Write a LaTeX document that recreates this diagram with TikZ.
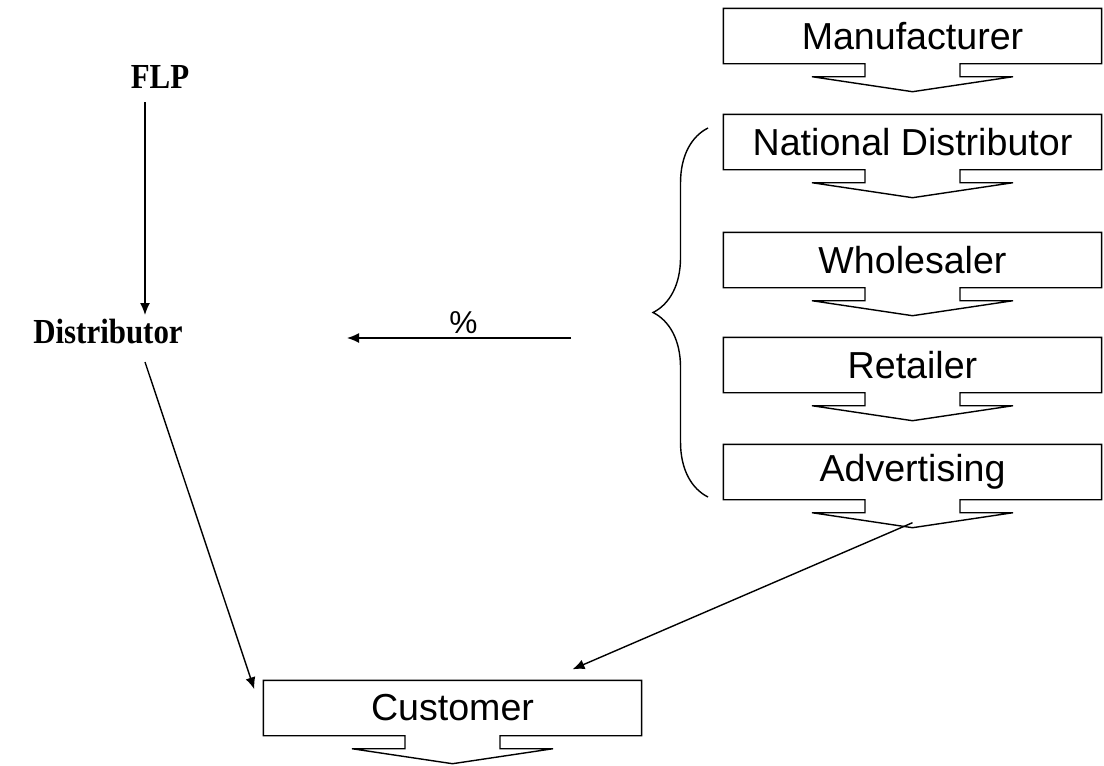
\documentclass[tikz,border=0pt]{standalone}
\usepackage{fontspec}
\usetikzlibrary{calc,arrows.meta,decorations.pathreplacing}
\newfontfamily\boxfont{Liberation Sans}
\newfontfamily\labfont[FakeStretch=0.88]{Liberation Serif}

\tikzset{
  chainbox/.style={minimum width=7.54cm,minimum height=1.08cm,inner sep=0pt,
    font=\boxfont\fontsize{21.4}{25}\selectfont},
  sidelabel/.style={inner sep=1pt,font=\labfont\bfseries\fontsize{20}{22}\selectfont},
  arr/.style={-{Latex[length=2.4mm,width=2mm]}},
}

% box with a down arrow hanging under it
\newcommand{\calloutbox}[1]{%
  \draw (#1.south west) -- (#1.north west) -- (#1.north east) -- (#1.south east)
    -- ($(#1.south)+(47.5,0)$) -- ++(0,13) -- ++(53,0) -- ($(#1.south)+(0,28)$)
    -- ($(#1.south)+(-100.5,13)$) -- ++(53,0) -- ++(0,-13) -- cycle;}

\begin{document}
\begin{tikzpicture}[x=0.02cm,y=-0.02cm,line width=0.8pt]
\useasboundingbox (0,0) rectangle (1104,765);

\node[chainbox] (manu) at (912.5,36) {Manufacturer};
\node[chainbox] (natd) at (912.5,142) {National Distributor};
\node[chainbox] (whole) at (912.5,260) {Wholesaler};
\node[chainbox] (retail) at (912.5,365) {Retailer};
\node[chainbox] (adv) at (912.5,472) {Advertising};
\node[chainbox] (cust) at (452.5,708) {Customer};

\calloutbox{manu}
\calloutbox{natd}
\calloutbox{whole}
\calloutbox{retail}
\calloutbox{adv}
\calloutbox{cust}

\node[sidelabel] (flp) at (160,77) {FLP};
\node[sidelabel] (dist) at (108,332) {Distributor};

\draw[arr] ($(flp.center)+(-15,25)$) -- ($(dist.center)+(37,-17)$);
\draw[arr] ($(dist.center)+(37,30)$) -- ($(cust.north west)+(-9,9)$);
\draw[arr] ($(adv.south)+(0,23)$) -- ($(cust.north)+(120,-11)$);

\coordinate (pctfrom) at (571,338);
\coordinate (pctto) at (347,338);
\draw[arr] (pctfrom) -- node[pos=0.48,above=-1pt,font=\boxfont\fontsize{18}{20}\selectfont] {\%} (pctto);

\draw[decorate,decoration={brace,amplitude=1.1cm}] (708,497) -- (708,128);
\end{tikzpicture}
\end{document}
